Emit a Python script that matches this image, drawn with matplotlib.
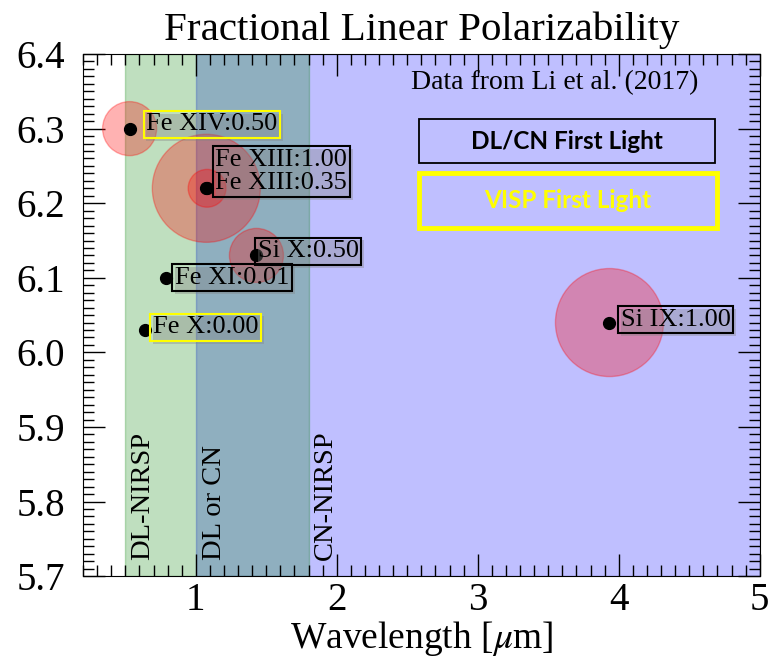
import numpy as np
import matplotlib
matplotlib.use('Agg')
import matplotlib.pyplot as plt
from matplotlib.patches import Rectangle
from matplotlib.ticker import MultipleLocator
import matplotlib.patheffects as pe

plt.rcParams['font.family'] = 'Liberation Serif'
plt.rcParams['mathtext.fontset'] = 'stix'

# coronal lines: wavelength [um], log T, fractional linear polarizability
ions       = ['Fe XIV', 'Fe XIII', 'Fe XIII', 'Si X', 'Fe XI', 'Fe X', 'Si IX']
wavelength = [0.5303, 1.0747, 1.0798, 1.4301, 0.7892, 0.6374, 3.9343]
log_temp   = [6.30, 6.22, 6.22, 6.13, 6.10, 6.03, 6.04]
frac_pol   = [0.50, 1.00, 0.35, 0.50, 0.01, 0.00, 1.00]
instrument = ['VISP', 'DL/CN', 'DL/CN', 'DL/CN', 'DL/CN', 'VISP', 'DL/CN']

# instrument coverage bands [um]
bands       = [(1.0, 5.0, 'b'), (0.5, 1.8, 'g')]
band_labels = ['DL-NIRSP', 'DL or CN', 'CN-NIRSP']
band_text_x = [0.62, 1.13, 1.92]

# label offsets in points (dx, dy), one per ion
label_offset = {'Fe XIV': (12, 3), 'Fe XIII': (6.5, 12), 'Si X': (1, 3),
                'Fe XI': (6.5, 0), 'Fe X': (6, 2), 'Si IX': (8, 2)}
edge_col = {'VISP': 'yellow', 'DL/CN': 'black'}

fig = plt.figure(figsize=(7.76, 6.63), dpi=100)
ax = fig.add_axes([0.107, 0.131, 0.872, 0.7875])

for x0, x1, c in bands:
    ax.axvspan(x0, x1, color=c, alpha=0.25, zorder=0)

for xt, t in zip(band_text_x, band_labels):
    ax.text(xt, 5.722, t, rotation=90, ha='center', va='bottom', fontsize=20.5)

# circle area scales with polarizability
sizes = [(77.8*p)**2 for p in frac_pol]
ax.scatter(wavelength, log_temp, s=sizes, color='red', alpha=0.3, zorder=2)
ax.plot(wavelength, log_temp, 'o', color='black', markersize=8.5, zorder=3)

shadow = [pe.withSimplePatchShadow(offset=(2, -2), shadow_rgbFace='gray', alpha=0.35)]
done = []
for i, ion in enumerate(ions):
    if ion in done:
        continue
    done.append(ion)
    idx = [j for j in range(len(ions)) if ions[j] == ion]
    txt = '\n'.join('%s:%.2f' % (ion, frac_pol[j]) for j in idx)
    dx, dy = label_offset[ion]
    t = ax.annotate(txt, (wavelength[i], log_temp[i]), xytext=(dx, dy),
                    textcoords='offset points', ha='left', va='center',
                    fontsize=19, zorder=4, linespacing=1.1,
                    bbox=dict(boxstyle='square,pad=0.1', fc='none',
                              ec=edge_col[instrument[i]], lw=1.5))
    t.get_bbox_patch().set_path_effects(shadow)

# first light key boxes
ax.add_patch(Rectangle((0.496, 0.791), 0.438, 0.084, transform=ax.transAxes,
                       fill=False, ec='black', lw=1.3, zorder=4))
ax.text(0.715, 0.833, 'DL/CN First Light', transform=ax.transAxes, ha='center',
        va='center', fontsize=17.5, fontweight='bold', family='Lato', zorder=5)
ax.add_patch(Rectangle((0.496, 0.667), 0.441, 0.105, transform=ax.transAxes,
                       fill=False, ec='yellow', lw=3.5, zorder=4))
ax.text(0.716, 0.719, 'VISP First Light', transform=ax.transAxes, ha='center',
        va='center', fontsize=17.5, fontweight='bold', family='Lato',
        color='yellow', zorder=5)

ax.text(0.697, 0.946, 'Data from Li et al. (2017)', transform=ax.transAxes,
        ha='center', va='center', fontsize=20)

ax.set_xlim(0.2, 5)
ax.set_ylim(5.7, 6.4)
ax.xaxis.set_major_locator(MultipleLocator(1))
ax.xaxis.set_minor_locator(MultipleLocator(0.1))
ax.yaxis.set_major_locator(MultipleLocator(0.1))
ax.yaxis.set_minor_locator(MultipleLocator(0.01))
ax.tick_params(which='both', direction='in', top=True, right=True, labelsize=28)
ax.tick_params(which='major', length=16, width=1)
ax.tick_params(which='minor', length=8, width=1)
ax.tick_params(axis='y', which='major', pad=13)
ax.tick_params(axis='x', which='major', pad=4)
ax.set_xticks([1, 2, 3, 4, 5])
ax.set_xlabel(r'Wavelength [$\mu$m]', fontsize=27, labelpad=0)
ax.set_title('Fractional Linear Polarizability', fontsize=29.5, pad=10)

fig.savefig('out.png', dpi=100)
